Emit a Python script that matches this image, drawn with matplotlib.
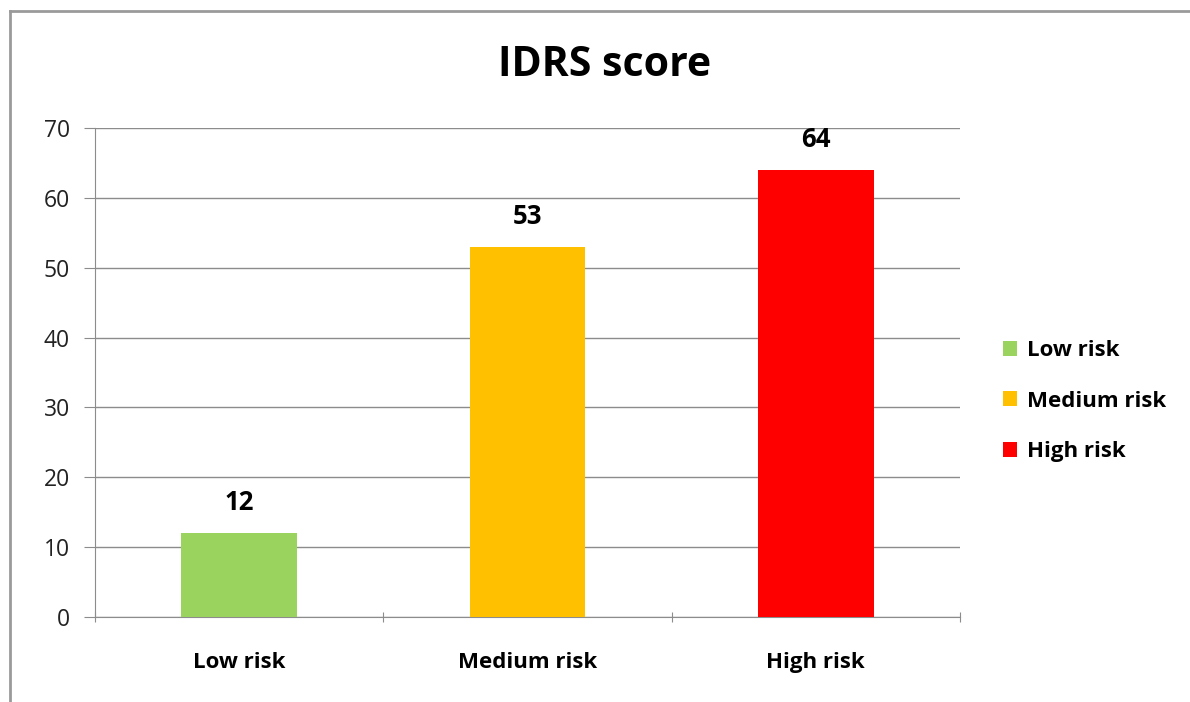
import matplotlib
matplotlib.use("Agg")
import matplotlib.pyplot as plt
from matplotlib.lines import Line2D
from matplotlib.patches import Patch

categories = ["Low risk", "Medium risk", "High risk"]
values = [12, 53, 64]
colors = ["#9BD35F", "#FFC000", "#FF0000"]
yticks = [0, 10, 20, 30, 40, 50, 60, 70]

plt.rcParams['font.family'] = ['Open Sans', 'DejaVu Sans']

W, H = 1190, 702
fig = plt.figure(figsize=(W / 100, H / 100), dpi=100)
ax = fig.add_axes([95 / W, 1 - 617 / H, 865 / W, (617 - 128) / H])

x = list(range(len(categories)))
ax.bar(x, values, width=0.4, color=colors, zorder=3)
for xi, v in zip(x, values):
    ax.text(xi, v + 4.4, str(v), ha='center', va='center', fontsize=18.5,
            fontweight='bold', color='black')

ax.set_xlim(-0.5, 2.5)
ax.set_ylim(0, 70)
ax.set_yticks(yticks)
ax.yaxis.grid(True, color='#8C8C8C', linewidth=1, zorder=0)
ax.set_axisbelow(True)
for s in ['top', 'right']:
    ax.spines[s].set_visible(False)
ax.spines['left'].set_color('#8C8C8C')
ax.spines['bottom'].set_color('#8C8C8C')
ax.tick_params(axis='y', length=8, color='#8C8C8C', labelsize=16.5, pad=10,
               labelcolor='#222222')
ax.set_xticks([-0.5, 0.5, 1.5, 2.5])
ax.set_xticklabels([])
ax.tick_params(axis='x', length=7, color='#8C8C8C', direction='inout')
for xi, c in zip(x, categories):
    ax.text(xi, -6.5, c, ha='center', va='center', fontsize=16,
            fontweight='bold', color='black')

fig.text(605 / W, 1 - 65 / H, "IDRS score", ha='center', va='center',
         fontsize=29.5, fontweight='bold')

handles = [Patch(facecolor=c, edgecolor='none') for c in colors]
leg = fig.legend(handles, categories, loc='center left',
                 bbox_to_anchor=(1003 / W, 1 - 401 / H), frameon=False,
                 prop={'size': 16, 'weight': 'bold'}, handlelength=0.65,
                 handleheight=0.65, handletextpad=0.45, labelspacing=1.33,
                 borderaxespad=0, borderpad=0)

# outer border
fig.add_artist(Line2D([10 / W, 10 / W], [0, 1 - 11 / H], transform=fig.transFigure,
                      color='#9A9A9A', linewidth=2))
fig.add_artist(Line2D([10 / W, 1], [1 - 11 / H, 1 - 11 / H], transform=fig.transFigure,
                      color='#9A9A9A', linewidth=2))

fig.savefig("out.png", dpi=100)
